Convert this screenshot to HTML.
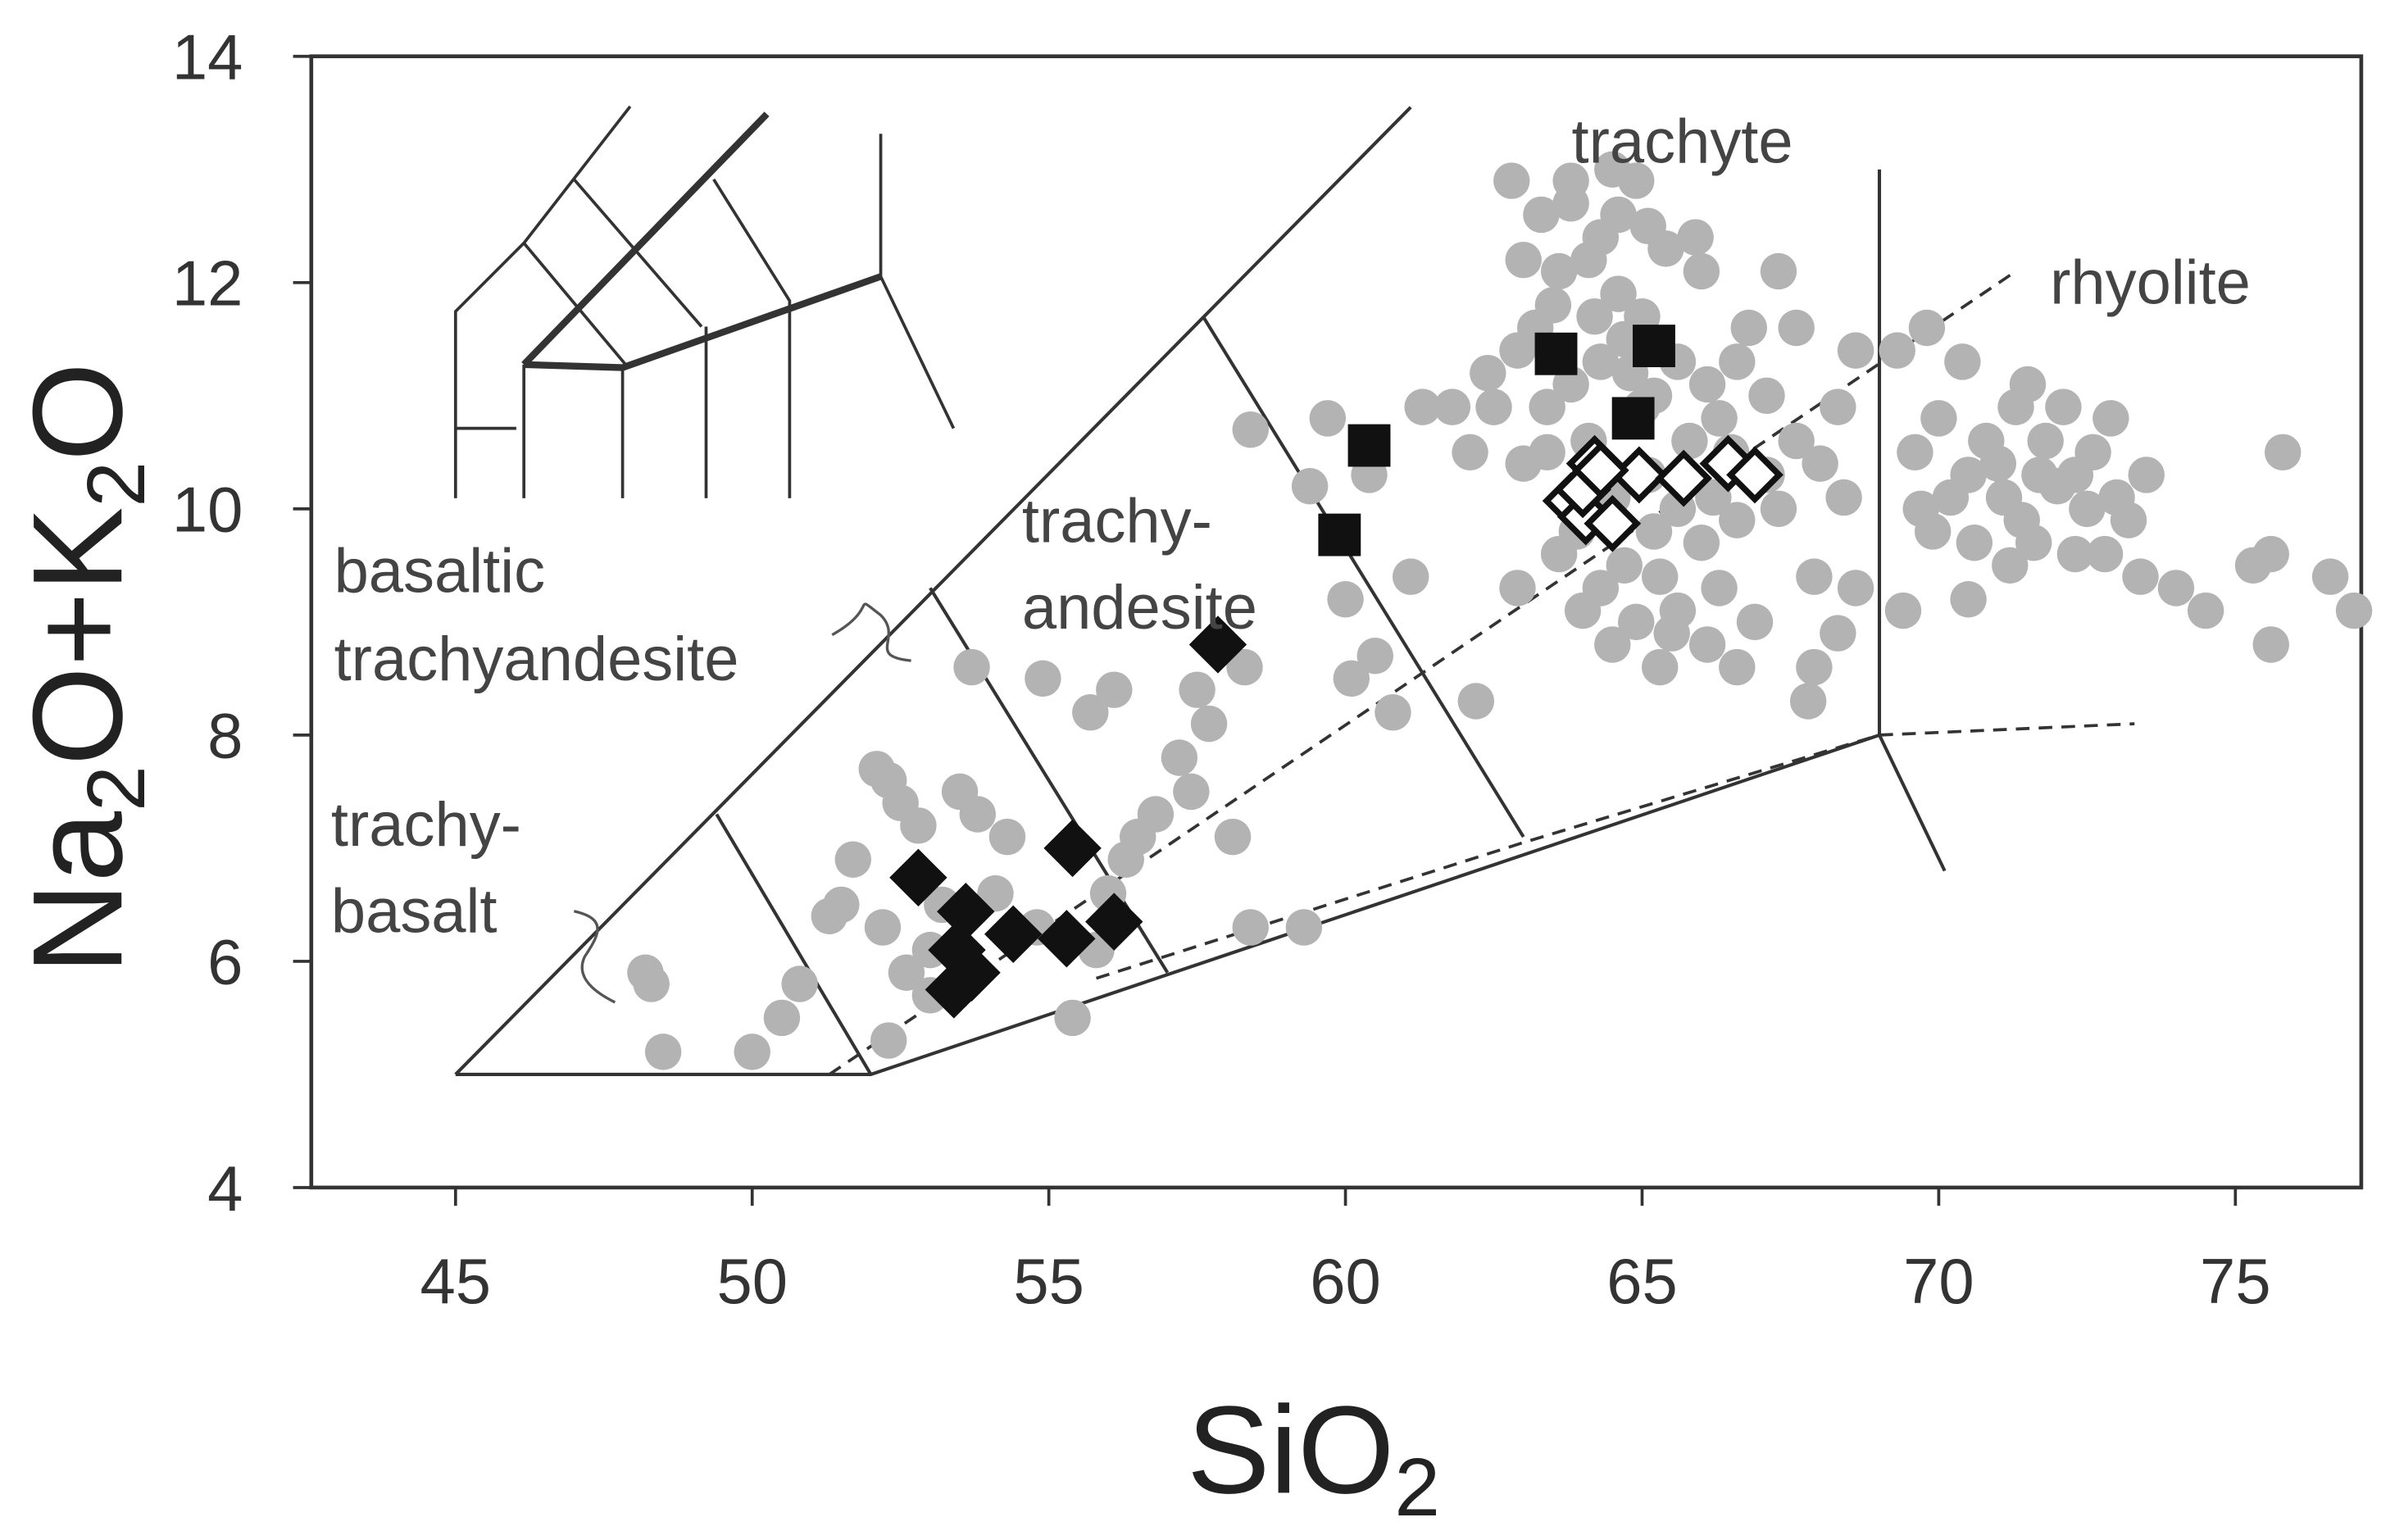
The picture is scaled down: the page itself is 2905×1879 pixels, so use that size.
<!DOCTYPE html>
<html><head><meta charset="utf-8"><style>
html,body{margin:0;padding:0;background:#fff;}
svg{display:block;font-family:"Liberation Sans",sans-serif;}
</style></head><body>
<svg id="chart" width="2905" height="1879" viewBox="0 0 1568 1014" xmlns="http://www.w3.org/2000/svg">
<g id="frame"></g>
<g id="fields" stroke="#333" stroke-width="2.2" fill="none"></g>
<g id="inset" stroke="#333" stroke-width="2" fill="none"></g>
<g id="gray"></g>
<g id="marks"></g>
<g id="labels" font-size="41" fill="#444">
<text x="1035" y="107">trachyte</text>
<text x="1350" y="200">rhyolite</text>
<text x="673" y="357">trachy-</text>
<text x="673" y="414">andesite</text>
<text x="220" y="390">basaltic</text>
<text x="220" y="448">trachyandesite</text>
<text x="218" y="557">trachy-</text>
<text x="218" y="614">basalt</text>
</g>
<path d="M548,418 C580,400 560,390 580,405 C595,420 570,432 600,435" stroke="#555" stroke-width="1.8" fill="none"/>
<path d="M378,600 C400,605 395,615 385,630 C378,645 395,655 405,660" stroke="#555" stroke-width="1.8" fill="none"/>
<g id="ticks"></g>
<text transform="translate(80,440) rotate(-90)" text-anchor="middle" font-size="84" fill="#222">Na<tspan font-size="54" dy="15">2</tspan><tspan dy="-15">O+K</tspan><tspan font-size="54" dy="15">2</tspan><tspan dy="-15">O</tspan></text>
<text x="865" y="983" text-anchor="middle" font-size="82" fill="#222">SiO<tspan font-size="54" dy="15">2</tspan></text>
</svg>
<script>
const xTicks=[45,50,55,60,65,70,75];
const yTicks=[4,6,8,10,12,14];
const grayX=[48.2,48.3,48.5,50,50.5,50.8,51.3,51.5,51.7,52.1,52.3,52.5,52.8,52.2,52.6,53,53.2,53.5,53.8,54.3,54.1,52.3,53.0,54.8,55.4,55.8,56,56.3,56.5,56.8,57.2,57.5,57.7,57.4,58.1,58.3,55.7,56.1,54.9,53.7,59.4,60,60.5,61.1,60.8,60.1,62.2,59.3,58.4,60.4,61.3,62.1,62.5,63,63.4,62.9,61.8,59.7,58.4,
62.8,63.3,63.8,64.3,64.1,63.6,64.6,65.0,65.4,65.9,64.9,63.2,63.8,64.3,64.7,65.6,66.1,66.6,67.1,67.6,66.3,65.8,65.1,64.5,63.9,64.7,65.3,66.0,66.6,67.1,67.6,68.3,68.6,67.9,66.9,66.1,65.3,64.5,64,63.6,66.6,67.9,68.3,68.6,68.4,62.4,62.9,65,66,67.3,66.8,64.5,
63.5,64.2,64.8,65.2,65.6,66.2,64.9,65.6,64.3,63.4,64.6,65.1,63.0,66.5,67.3,68.0,64.1,65.2,66.3,63.8,65.5,67.8,
69.3,69.8,70.4,71.3,71.8,72.3,71.1,70.5,69.6,69.9,70.6,71.4,72,72.6,73,73.5,72.8,73.4,74,74.5,75.3,75.6,75.8,76.6,77,75.6,70.5,69.4,71.2,72.3,72.1,71.5,
70,70.8,71.7,72.5,70.2,69.7,71.0,72.9,73.2,71.6];
const grayY=[5.9,5.8,5.2,5.2,5.5,5.8,6.4,6.5,6.9,7.7,7.6,7.4,7.2,6.3,5.9,6.1,6.5,7.5,7.3,7.1,6.6,5.3,5.7,6.3,5.5,6.1,6.6,6.9,7.1,7.3,7.8,8.4,8.1,7.5,7.1,8.6,8.2,8.4,8.5,8.6,10.2,9.2,8.7,9.4,8.2,8.5,8.3,6.3,6.3,10.3,10.9,10.5,10.9,10.4,10.5,9.3,10.9,10.8,10.7,
12.9,12.6,12.7,12.4,12.2,12.1,11.9,11.7,12.3,12.4,12.9,11.6,11.1,11.3,11.5,11.3,11.1,11.3,11.0,11.6,10.8,10.6,10.3,10.1,9.8,9.5,9.4,9.7,9.9,10.3,10.6,10.9,11.4,9.4,9.0,8.8,8.6,8.8,9.1,9.6,8.6,8.6,8.9,9.3,10.1,11.2,11.4,10.9,12.1,12.1,11.6,13.0,
11.8,11.7,11.2,11.0,10.0,10.1,9.0,9.1,9.3,10.9,12.6,12.5,12.2,10.5,10.0,10.4,10.6,9.8,9.3,12.9,8.9,8.3,
11.4,11.6,11.3,10.9,10.6,10.3,10.1,10.3,10.5,9.8,9.7,9.9,10.2,10.5,10.1,10.3,9.6,9.4,9.3,9.1,9.5,9.6,10.5,9.4,9.1,8.8,9.2,9.1,9.5,9.6,10.9,11.1,
10.8,10.6,10.3,10.0,10.1,10.0,10.4,10.8,9.9,9.7];
const blackDiamondX=[52.8,53.6,53.45,53.7,53.4,54.4,55.3,55.4,56.1,57.85];
const blackDiamondY=[6.74,6.44,6.1,5.9,5.75,6.24,6.2,7.0,6.35,8.8];
const squareX=[59.9,60.4,63.55,65.2,64.85];
const squareY=[9.77,10.56,11.37,11.44,10.8];
const openDiamondX=[63.8,64.2,64.05,64.5,64.95,65.7,66.45,66.9,64,64.3];
const openDiamondY=[10.07,10.4,9.93,9.87,10.3,10.27,10.4,10.3,10.17,10.34];

const NS='http://www.w3.org/2000/svg';
const X=v=>300+(v-45)*39.07;
const Y=v=>37+(14-v)*74.5;
function mk(tag,parent,attrs){const e=document.createElementNS(NS,tag);for(const k in attrs)e.setAttribute(k,attrs[k]);document.getElementById(parent).appendChild(e);return e;}

let f=mk('path','frame',{d:'M205,37 L1555,37 L1555,782 L205,782 Z',stroke:'#333','stroke-width':2.5,fill:'none'});



xTicks.forEach(t=>{
 let l=mk('line','ticks',{x1:X(t),x2:X(t),y1:782,y2:794,stroke:'#333','stroke-width':2});
 
 
 let tx=mk('text','ticks',{x:X(t),y:858,'text-anchor':'middle','font-size':42,fill:'#333'});
 tx.textContent=t;
 
 
});
yTicks.forEach(t=>{
 let l=mk('line','ticks',{x1:193,x2:205,y1:Y(t),y2:Y(t),stroke:'#333','stroke-width':2});
 
 
 let tx=mk('text','ticks',{x:160,y:Y(t)+15,'text-anchor':'end','font-size':42,fill:'#333'});
 tx.textContent=t;
 
 
});

const solid=[[[45,5],[52,5],[69,8]],[[45,5],[61.1,13.55]],[[69,8],[69,13.0]],[[69,8],[70.1,6.8]],[[49.4,7.3],[52,5]],[[53,9.3],[57,5.9]],[[57.6,11.7],[63,7.1]]];
solid.forEach(p=>{
 let e=mk('path','fields',{d:'M'+p.map(q=>X(q[0])+','+Y(q[1])).join(' L')});
 
 
});
const dashed=[[[51.3,5],[71.3,12.1]],[[55.8,5.85],[63,7.05],[69,8],[73.3,8.1]]];
dashed.forEach(p=>{
 let e=mk('path','fields',{d:'M'+p.map(q=>X(q[0])+','+Y(q[1])).join(' L'),'stroke-dasharray':'9,6','stroke-width':2});
 
 
});

const inset=[['M300,328 L300,205 L345,160 L415,70',2],['M345,240 L345,328',2],['M300,282 L340,282',2],['M345,160 L412,240',2],['M378,118 L462,215',2],['M470,118 L520,198 L520,328',2],['M465,215 L465,328',2],['M410,242 L410,328',2],['M580,88 L580,182 L628,282',2],['M345,240 L505,75',4.5],['M345,240 L410,242 L580,182',4.5]];
inset.forEach(s=>{
 let e=mk('path','inset',{d:s[0],'stroke-width':s[1]});
 
 
});

grayX.forEach((v,i)=>{
 let c=mk('circle','gray',{cx:X(v),cy:Y(grayY[i]),r:12,fill:'#b3b3b3'});
 
 
});
squareX.forEach((v,i)=>{
 let c=mk('rect','marks',{x:X(v)-14,y:Y(squareY[i])-14,width:28,height:28,fill:'#111'});
 
 
});
function diamond(cx,cy,s){return `M${cx},${cy-s} L${cx+s},${cy} L${cx},${cy+s} L${cx-s},${cy} Z`;}
blackDiamondX.forEach((v,i)=>{
 let c=mk('path','marks',{d:diamond(X(v),Y(blackDiamondY[i]),19),fill:'#111'});
 
 
});
openDiamondX.forEach((v,i)=>{
 let c=mk('path','marks',{d:diamond(X(v),Y(openDiamondY[i]),16),fill:'#fff',stroke:'#111','stroke-width':4});
 
 
});
</script>
</body></html>
